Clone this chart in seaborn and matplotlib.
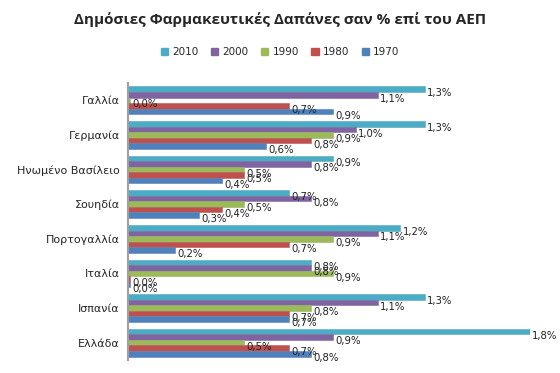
# Δημόσιες Φαρμακευτικές Δαπάνες - horizontal grouped bars

import pandas as pd
import seaborn as sns
import matplotlib.pyplot as plt

# countries, top to bottom
countries = ['Γαλλία', 'Γερμανία', 'Ηνωμένο Βασίλειο', 'Σουηδία',
             'Πορτογαλλία', 'Ιταλία', 'Ισπανία', 'Ελλάδα']
years = ['2010', '2000', '1990', '1980', '1970']

# values (% of GDP)
v2010 = [1.33, 1.33, 0.92, 0.72, 1.22, 0.82, 1.33, 1.80]
v2000 = [1.12, 1.02, 0.82, 0.82, 1.12, 0.82, 1.12, 0.92]
v1990 = [0.01, 0.92, 0.52, 0.52, 0.92, 0.92, 0.82, 0.52]
v1980 = [0.72, 0.82, 0.52, 0.42, 0.72, 0.01, 0.72, 0.72]
v1970 = [0.92, 0.62, 0.42, 0.32, 0.21, 0.01, 0.72, 0.82]

colors = ['#4BACC6', '#8064A2', '#9BBB59', '#C0504D', '#4F81BD']

rows = []
for yr, vals in zip(years, [v2010, v2000, v1990, v1980, v1970]):
    for c, v in zip(countries, vals):
        rows.append({'country': c, 'year': yr, 'value': v})
df = pd.DataFrame(rows)

sns.set_style('white')
plt.rcParams['font.family'] = ['DejaVu Sans']

fig = plt.figure(figsize=(5.6, 3.73), dpi=100)
ax = fig.add_axes([128 / 560, 1 - 360 / 373, 402 / 560, 277 / 373])

sns.barplot(data=df, y='country', x='value', hue='year', orient='h',
            order=countries, hue_order=years, palette=colors,
            width=0.8, saturation=1, ax=ax, legend=False)

# thin darker outline like the original
for cont, col in zip(ax.containers, colors):
    for bar in cont:
        bar.set_edgecolor(sns.desaturate(col, 0.8))
        bar.set_linewidth(0.4)

# value labels next to bar ends
for cont in ax.containers:
    for bar in cont:
        w = bar.get_width()
        yc = bar.get_y() + bar.get_height() / 2
        ax.annotate(f'{w:.1f}%'.replace('.', ','), (w, yc),
                    xytext=(1.5, -3), textcoords='offset points',
                    ha='left', va='center', fontsize=7.3, color='#202020',
                    annotation_clip=False)

ax.set_xlim(0, 1.8)
ax.set_xlabel('')
ax.set_ylabel('')
ax.set_xticks([])
ax.tick_params(axis='y', length=0, labelsize=8, pad=6)
for s in ['top', 'right', 'bottom']:
    ax.spines[s].set_visible(False)
ax.spines['left'].set_color('#A0A0A0')
ax.spines['left'].set_linewidth(1.5)

# legend
handles = [plt.Rectangle((0, 0), 1, 1, color=c) for c in colors]
fig.legend(handles, years, loc='center', bbox_to_anchor=(0.5, 1 - 52 / 373),
           ncol=5, frameon=False, fontsize=7.5, handlelength=0.7,
           handleheight=0.7, handletextpad=0.4, columnspacing=1.2)

fig.text(0.5, 1 - 20 / 373, 'Δημόσιες Φαρμακευτικές Δαπάνες σαν % επί του ΑΕΠ',
         ha='center', va='center', fontsize=11, fontweight='bold',
         family=['Open Sans', 'DejaVu Sans'])

fig.savefig('out.png', dpi=100)
